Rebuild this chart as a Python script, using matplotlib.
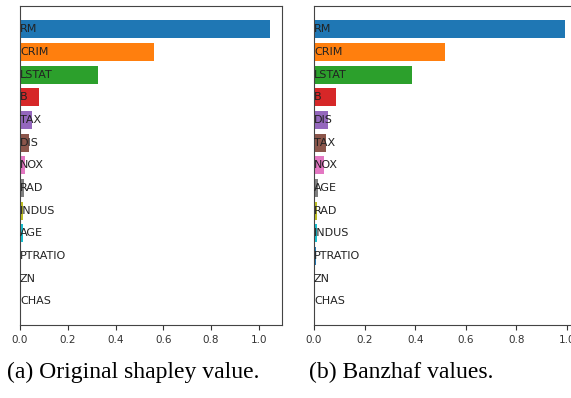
import matplotlib
matplotlib.use("Agg")
import matplotlib.pyplot as plt

# Feature importances, sorted from largest to smallest
shapley_features = ["RM", "CRIM", "LSTAT", "B", "TAX", "DIS", "NOX",
                    "RAD", "INDUS", "AGE", "PTRATIO", "ZN", "CHAS"]
shapley_values = [1.045, 0.56, 0.326, 0.08, 0.051, 0.036, 0.022,
                  0.015, 0.014, 0.012, 0.006, 0.002, 0.001]

banzhaf_features = ["RM", "CRIM", "LSTAT", "B", "DIS", "TAX", "NOX",
                    "AGE", "RAD", "INDUS", "PTRATIO", "ZN", "CHAS"]
banzhaf_values = [0.993, 0.518, 0.389, 0.086, 0.054, 0.049, 0.040,
                  0.016, 0.012, 0.011, 0.007, 0.003, 0.001]

captions = ["(a) Original shapley value.", "(b) Banzhaf values."]

palette = plt.rcParams["axes.prop_cycle"].by_key()["color"]

fig = plt.figure(figsize=(5.71, 3.98), dpi=100)
ax_a = fig.add_axes([0.035, 0.1834, 0.4589, 0.8023])
ax_b = fig.add_axes([0.5499, 0.1834, 0.4622, 0.8023])


def draw(ax, names, values):
    ypos = list(range(len(names)))
    colors = [palette[i % len(palette)] for i in ypos]
    ax.barh(ypos, values, height=0.8, color=colors)
    for y, name in zip(ypos, names):
        ax.text(0, y, name, ha="left", va="center", fontsize=8, color="#222222")
    ax.invert_yaxis()
    ax.set_yticks([])
    ax.set_xticks([0.0, 0.2, 0.4, 0.6, 0.8, 1.0])
    ax.tick_params(axis="x", labelsize=7.5, length=3.5, colors="#333333")
    for s in ax.spines.values():
        s.set_color("#444444")


draw(ax_a, shapley_features, shapley_values)
draw(ax_b, banzhaf_features, banzhaf_values)

fig.text(0.233, 0.065, captions[0], ha="center", va="center",
         fontsize=17, family="Liberation Serif")
fig.text(0.702, 0.065, captions[1], ha="center", va="center",
         fontsize=17, family="Liberation Serif")

fig.savefig("out.png", dpi=100)
